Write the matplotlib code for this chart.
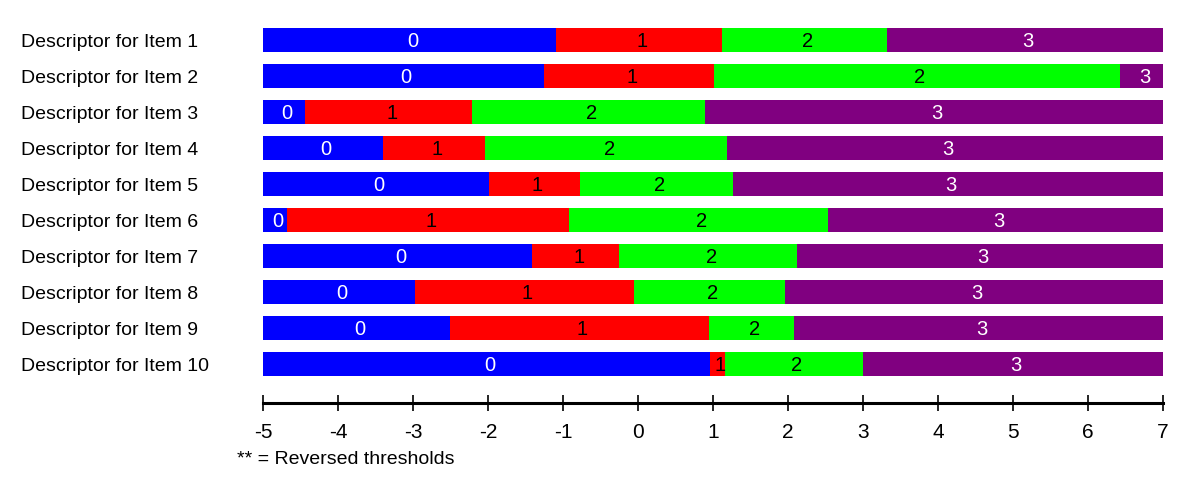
import matplotlib.pyplot as plt
import numpy as np

plt.rcParams['font.family'] = ['Liberation Sans', 'DejaVu Sans']

# Data
items = [f"Descriptor for Item {i}" for i in range(1, 11)]
axis_min = -5
axis_max = 7
# threshold boundaries between categories 0|1, 1|2, 2|3
thr_01 = [-1.09, -1.26, -4.44, -3.40, -1.99, -4.68, -1.41, -2.98, -2.51, 0.96]
thr_12 = [1.12, 1.01, -2.21, -2.04, -0.77, -0.92, -0.25, -0.05, 0.95, 1.16]
thr_23 = [3.32, 6.43, 0.89, 1.19, 1.26, 2.53, 2.12, 1.96, 2.08, 3.00]
categories = ["0", "1", "2", "3"]
cat_colors = ["#0000ff", "#ff0000", "#00ff00", "#800080"]
text_colors = ["white", "black", "black", "white"]
ticks = list(range(-5, 8))

fig = plt.figure(figsize=(12, 4.87), dpi=100)
ax = fig.add_axes([263 / 1200, (487 - 402.7) / 487, 900 / 1200, 382.7 / 487])

y = np.arange(len(items))
starts = [np.full(len(items), axis_min), np.array(thr_01), np.array(thr_12), np.array(thr_23)]
ends = [np.array(thr_01), np.array(thr_12), np.array(thr_23), np.full(len(items), axis_max)]

for k in range(4):
    widths = ends[k] - starts[k]
    ax.barh(y, widths, left=starts[k], height=0.67, color=cat_colors[k], linewidth=0)
    for i in range(len(items)):
        mid = (starts[k][i] + ends[k][i]) / 2 + 0.04
        ax.text(mid, y[i] + 0.04, categories[k], ha='center', va='center',
                color=text_colors[k], fontsize=14.5)

ax.set_xlim(axis_min, axis_max)
ax.set_ylim(10.07, -0.556)

for s in ['top', 'right', 'left']:
    ax.spines[s].set_visible(False)
ax.spines['bottom'].set_linewidth(2.2)

ax.set_xticks(ticks)
ax.set_xticklabels([str(t) for t in ticks], fontsize=15)
ax.tick_params(axis='x', direction='inout', length=11, width=1.2, pad=9)

ax.set_yticks(y)
ax.set_yticklabels(items, fontsize=14)
ax.tick_params(axis='y', length=0, pad=174)
for lbl in ax.get_yticklabels():
    lbl.set_horizontalalignment('left')

fig.text(237 / 1200, 1 - 460 / 487, "** = Reversed thresholds", fontsize=14,
         ha='left', va='center')

plt.savefig("out.png", dpi=100, facecolor='white')
plt.close()
